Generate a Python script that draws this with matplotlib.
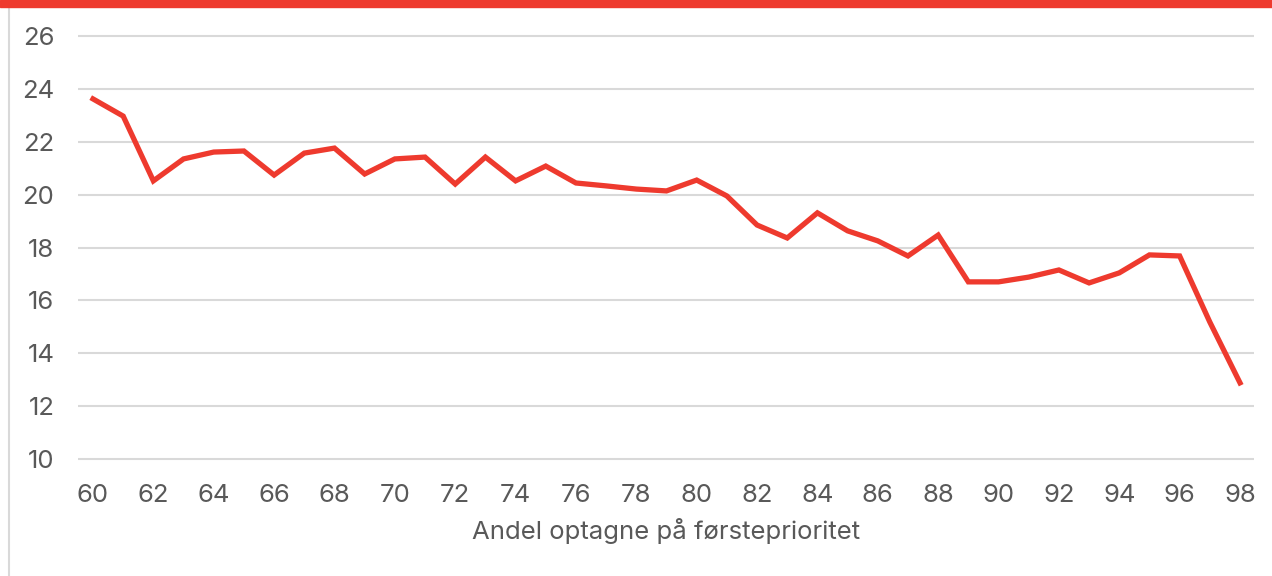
import matplotlib.pyplot as plt
from matplotlib.lines import Line2D
from matplotlib.patches import Rectangle

# andel optagne på førsteprioritet (x) og værdi (y)
andel = list(range(60, 99))
vaerdi = [23.62, 22.97, 20.52, 21.35, 21.61, 21.65, 20.74, 21.57, 21.76, 20.78,
          21.35, 21.42, 20.40, 21.42, 20.52, 21.08, 20.44, 20.33, 20.21, 20.14,
          20.55, 19.95, 18.85, 18.36, 19.31, 18.63, 18.25, 17.68, 18.47, 16.70,
          16.70, 16.88, 17.15, 16.66, 17.04, 17.72, 17.68, 15.18, 12.88]
x_ticks = list(range(60, 99, 2))
y_ticks = list(range(10, 27, 2))
x_label = 'Andel optagne på førsteprioritet'

red = '#ee3a2e'
grey_text = '#595959'
W, H = 1272, 576

plt.rcParams['font.family'] = ['Inter', 'DejaVu Sans']

fig = plt.figure(figsize=(W / 100, H / 100), dpi=100)

# top red bar and left rule
fig.patches.append(Rectangle((0, 1 - 7 / H), 1, 7 / H, transform=fig.transFigure,
                             color=red, zorder=5))
fig.lines.append(Line2D([8.5 / W, 8.5 / W], [0, 1 - 7 / H], transform=fig.transFigure,
                        color='#d9d9d9', lw=1.5))

ylo, yhi = 9.9, 26.1
ppu = (459 - 36) / 16
top_px = 36 - (yhi - 26) * ppu
bot_px = 459 + (10 - ylo) * ppu
left_px, right_px = 78, 1254
ax = fig.add_axes([left_px / W, 1 - bot_px / H, (right_px - left_px) / W, (bot_px - top_px) / H])

ax.plot(andel, vaerdi, color=red, lw=3.8, solid_joinstyle='miter', zorder=3)

xppu = (1240 - 93) / 38
ax.set_xlim(60 - (93 - left_px) / xppu, 98 + (right_px - 1240) / xppu)
ax.set_ylim(ylo, yhi)
ax.set_xticks(x_ticks)
ax.set_yticks(y_ticks)
ax.yaxis.grid(True, color='#d9d9d9', lw=1.5)
ax.set_axisbelow(True)
for s in ax.spines.values():
    s.set_visible(False)
ax.tick_params(length=0, labelsize=18.5, labelcolor=grey_text)
ax.tick_params(axis='y', pad=17)
ax.tick_params(axis='x', pad=16)
ax.set_xlabel(x_label, fontsize=18.5, color=grey_text, labelpad=8)

fig.savefig('out.png', dpi=100)
